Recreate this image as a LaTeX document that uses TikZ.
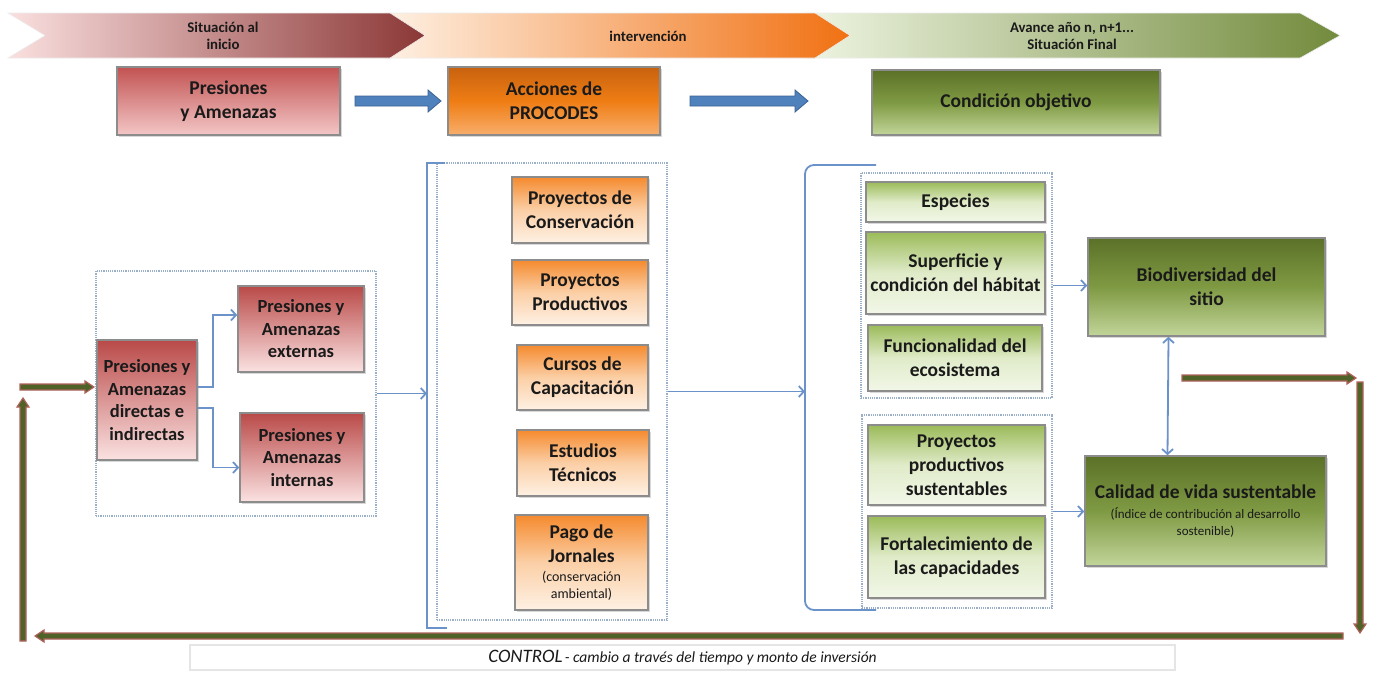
\documentclass[tikz,border=0pt]{standalone}
\usepackage{fontspec}
\setmainfont{Carlito}
\usetikzlibrary{arrows.meta,shadows}
\definecolor{txt}{HTML}{1A1A1A}
\definecolor{boxgray}{HTML}{8C8C8C}
\definecolor{connc}{HTML}{6C93C9}
\definecolor{grpline}{HTML}{9AAFC8}
\definecolor{ctrlgreen}{HTML}{4F6228}
\definecolor{ctrlbrown}{HTML}{B0625C}
\definecolor{bluefill}{HTML}{4F81BD}
\definecolor{blueline}{HTML}{3A6394}
\definecolor{redA}{HTML}{C25352}
\definecolor{redB}{HTML}{F3C6C6}
\definecolor{redC}{HTML}{B94A48}
\definecolor{redD}{HTML}{FBE2E2}
\definecolor{oA}{HTML}{C8620F}
\definecolor{oM}{HTML}{EF7D14}
\definecolor{oB}{HTML}{F8AE6C}
\definecolor{oC}{HTML}{F58A2E}
\definecolor{oD}{HTML}{FBCFA6}
\definecolor{oE}{HTML}{FEF1E4}
\definecolor{gA}{HTML}{5B7128}
\definecolor{gM}{HTML}{7F9A43}
\definecolor{gB}{HTML}{C2D59A}
\definecolor{lgA}{HTML}{9BBB59}
\definecolor{lgM}{HTML}{E0EBC9}
\definecolor{lgB}{HTML}{F2F7E8}
\newcommand\smallfourteen{\fontsize{14}{17}\selectfont\mdseries}
\newcommand\smallthirteen{\fontsize{13}{16}\selectfont\mdseries}
\begin{document}
\begin{tikzpicture}[x=1pt,y=-1pt,
  box/.style={draw=boxgray, line width=1.6pt, inner sep=0pt, align=center, text=txt,
     drop shadow={opacity=0.3, shadow xshift=1.5pt, shadow yshift=-1.5pt}},
  bigtxt/.style={font=\fontsize{19.5}{24}\selectfont\bfseries},
  midtxt/.style={font=\fontsize{18.5}{22.5}\selectfont\bfseries},
  bantxt/.style={font=\fontsize{14.8}{17.5}\selectfont\bfseries, text=txt, align=center, inner sep=0pt},
  redtop/.style={box, bigtxt, top color=redA, bottom color=redB},
  redsm/.style={box, midtxt, top color=redC, bottom color=redD},
  orgtop/.style={box, bigtxt, top color=oA, bottom color=oB, middle color=oM},
  orgsm/.style={box, bigtxt, top color=oC, bottom color=oE, middle color=oD},
  grntop/.style={box, bigtxt, top color=gA, bottom color=gB, middle color=gM},
  lgrn/.style={box, bigtxt, top color=lgA, bottom color=lgB, middle color=lgM},
  grp/.style={draw=grpline, densely dotted, line width=1.2pt, inner sep=0pt},
  conn/.style={draw=connc, line width=1.8pt, -{Straight Barb[length=5pt,width=11pt]}},
  brk/.style={draw=connc, line width=1.8pt},
  thick/.style={fill=bluefill, draw=blueline, line width=0.8pt},
  ctrl/.style={fill=ctrlgreen, draw=ctrlbrown, line width=1.2pt},
]
\fill[white] (0,0) rectangle (1378,673);
\useasboundingbox (0,0) rectangle (1378,673);

% banner
\path[draw=white!85!gray, line width=0.6pt, left color=lgB!80!lgM, middle color=lgM, right color=gM!90!black]
  (805,13) -- (1300,13) -- (1340,35.5) -- (1300,58) -- (805,58) -- cycle;
\path[draw=white!85!gray, line width=0.6pt, left color=oE, middle color=oD!85!white, right color=oM!90!red]
  (385,13) -- (815,13) -- (850,35.5) -- (815,58) -- (385,58) -- cycle;
\path[draw=white!85!gray, line width=0.6pt, left color=redD!90!redB, middle color=redB!80!redD, right color=redC!75!black]
  (8,13) -- (390,13) -- (425,35.5) -- (390,58) -- (8,58) -- (45,35.5) -- cycle;
\node[bantxt] (ban1) at (223,36) {Situación al\\inicio};
\node[bantxt] (ban2) at (648,36) {intervención};
\node[bantxt] (ban3) at (1072,36) {Avance año n, n+1...\\Situación Final};

% top row
\node[redtop, minimum width=223pt, minimum height=68pt] (topP) at (228.5,101) {Presiones\\y Amenazas};
\node[orgtop, minimum width=212pt, minimum height=68pt] (topA) at (554,101) {Acciones de\\PROCODES};
\node[grntop, minimum width=288pt, minimum height=65pt] (topC) at (1016,102.5) {Condición objetivo};
\path[thick] (355,96) -- (428,96) -- (428,90) -- (441,101) -- (428,112) -- (428,106) -- (355,106) -- cycle;
\path[thick] (690,96) -- (795,96) -- (795,90) -- (808,101) -- (795,112) -- (795,106) -- (690,106) -- cycle;

% groups
\node[grp, minimum width=280pt, minimum height=245pt] (grpL) at (236,393.5) {};
\node[grp, minimum width=230pt, minimum height=457pt] (grpM) at (552,391.5) {};
\node[grp, minimum width=191pt, minimum height=225pt] (grpR1) at (956.5,285.5) {};
\node[grp, minimum width=190pt, minimum height=193pt] (grpR2) at (957,511.5) {};

% left boxes
\node[redsm, minimum width=100pt, minimum height=120pt] (pDir) at (147,400) {Presiones y\\Amenazas\\directas e\\indirectas};
\node[redsm, minimum width=126pt, minimum height=86pt] (pExt) at (301,329) {Presiones y\\Amenazas\\externas};
\node[redsm, minimum width=124pt, minimum height=89pt] (pInt) at (302,457.5) {Presiones y\\Amenazas\\internas};

% middle boxes
\node[orgsm, minimum width=136pt, minimum height=66pt] (o1) at (580,210) {Proyectos de\\Conservación};
\node[orgsm, minimum width=136pt, minimum height=65pt] (o2) at (580,292.5) {Proyectos\\Productivos};
\node[orgsm, minimum width=131pt, minimum height=65pt] (o3) at (582.5,377.5) {Cursos de\\Capacitación};
\node[orgsm, minimum width=132pt, minimum height=66pt] (o4) at (583,463) {Estudios\\Técnicos};
\node[orgsm, minimum width=133pt, minimum height=95pt] (o5) at (581.5,562.5) {Pago de\\Jornales\\[-5pt]\smallfourteen (conservación\\[-7pt]\smallfourteen ambiental)};

% right boxes
\node[lgrn, minimum width=179pt, minimum height=40pt] (g1) at (955.5,202) {Especies};
\node[lgrn, minimum width=179pt, minimum height=82pt] (g2) at (955.5,273) {Superficie y\\condición del hábitat};
\node[lgrn, minimum width=174pt, minimum height=66pt] (g3) at (955,358) {Funcionalidad del\\ecosistema};
\node[lgrn, minimum width=177pt, minimum height=80pt] (g4) at (956.5,465) {Proyectos\\productivos\\sustentables};
\node[lgrn, minimum width=177pt, minimum height=82pt] (g5) at (956.5,557) {Fortalecimiento de\\las capacidades};
\node[grntop, minimum width=237pt, minimum height=98pt] (bio) at (1206.5,287) {Biodiversidad del\\sitio};
\node[grntop, minimum width=241pt, minimum height=110pt] (cal) at (1205.5,511) {Calidad de vida sustentable\\[-4pt]\smallthirteen (Índice de contribución al desarrollo\\[-7pt]\smallthirteen sostenible)};

% brackets
\draw[brk] (445,163) -- (427,163) -- (427,628) -- (447,628);
\coordinate (b1) at (427,393.5);
\draw[brk, rounded corners=9pt] (876,165) -- (805,165) -- (805,610) -- (876,610);
\coordinate (b2) at (805,391.5);

% connectors
\draw[conn] ([yshift=13pt]pDir.east) -- ++(15,0) |- ([yshift=14pt]pExt.west);
\draw[conn] ([yshift=-8pt]pDir.east) -- ++(15,0) |- ([yshift=-10pt]pInt.west);
\draw[conn] (grpL.east) -- (b1);
\draw[conn] (grpM.east) -- (b2);
\draw[conn] (grpR1.east) -- (bio.west |- grpR1.east);
\draw[conn] (grpR2.east) -- (cal.west |- grpR2.east);
\draw[draw=connc, line width=1.8pt, {Straight Barb[length=5pt,width=11pt]}-{Straight Barb[length=5pt,width=11pt]}]
  ([xshift=-38pt]bio.south) -- ([xshift=-38pt]cal.north);

% control loop
\path[ctrl] (1182,375) -- (1347,375) -- (1347,372) -- (1356,378) -- (1347,384) -- (1347,381) -- (1182,381) -- cycle;
\path[ctrl] (1357,382) -- (1357,624) -- (1354,624) -- (1360,633) -- (1366,624) -- (1363,624) -- (1363,382) -- cycle;
\path[ctrl] (1343,633) -- (44,633) -- (44,630) -- (35,636) -- (44,642) -- (44,639) -- (1343,639) -- cycle;
\path[ctrl] (20,641) -- (20,407) -- (17,407) -- (23,398) -- (29,407) -- (26,407) -- (26,641) -- cycle;
\path[ctrl] (20,384) -- (85,384) -- (85,381) -- (94,387) -- (85,393) -- (85,390) -- (20,390) -- cycle;

\node[draw=white!80!gray, line width=1.2pt, inner sep=0pt, minimum width=985pt, minimum height=25pt, text=txt,
  font=\itshape, drop shadow={opacity=0.15, shadow xshift=1pt, shadow yshift=-1pt}, fill=white] (ctl) at (682.5,657.5)
  {{\fontsize{19}{20}\selectfont CONTROL} {\fontsize{15.5}{17}\selectfont - cambio a través del tiempo y monto de inversión}};
\end{tikzpicture}
\end{document}
